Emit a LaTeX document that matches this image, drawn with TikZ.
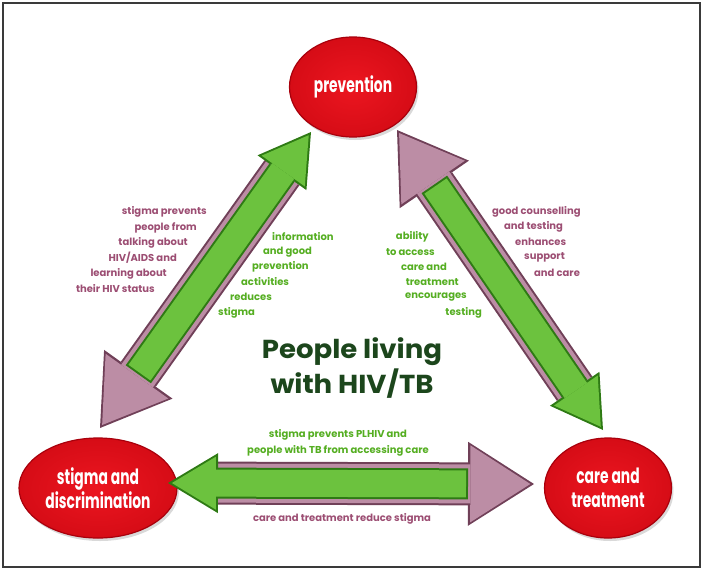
\documentclass[tikz,border=0pt]{standalone}
\usepackage{fontspec}
\setmainfont{Poppins}
\newfontfamily\ellfont{Poppins}[FakeStretch=0.66]
\newfontfamily\titlefont{Poppins}[FakeStretch=1.06]
\usetikzlibrary{arrows.meta,calc,shapes.geometric,shadows}

\definecolor{framecol}{HTML}{3A3A3A}
\definecolor{redmain}{HTML}{EC1620}
\definecolor{redmid}{HTML}{D60C16}
\definecolor{reddark}{HTML}{A8000C}
\definecolor{greenfill}{HTML}{6CC23E}
\definecolor{greenedge}{HTML}{2E7A14}
\definecolor{pinkfill}{HTML}{BC8DA5}
\definecolor{pinkedge}{HTML}{704058}
\definecolor{pinktext}{HTML}{9C4E73}
\definecolor{greentext}{HTML}{55AE22}
\definecolor{titlegreen}{HTML}{1C461C}

\tikzset{
  ellnode/.style={ellipse, draw=reddark, line width=1.2pt, inner color=redmain, outer color=redmid,
    minimum width=127pt, minimum height=100pt, text=white, align=center,
    font=\ellfont\bfseries\fontsize{21}{24}\selectfont,
    drop shadow={opacity=0.3, shadow xshift=2pt, shadow yshift=-3pt}},
  pinkarrow/.style={preaction={draw=pinkedge, line width=43pt, shorten >=0pt,
      -{Triangle[length=66pt,width=84pt,line width=0pt]}},
    draw=pinkfill, line width=39pt, shorten >=3.7pt,
    -{Triangle[length=60pt,width=77pt,line width=0pt]}},
  greenarrow/.style={preaction={draw=greenedge, line width=31pt, shorten >=0pt, shorten <=0pt,
      -{Triangle[length=50pt,width=60pt,line width=0pt]}},
    draw=greenfill, line width=27pt, shorten >=3.9pt, shorten <=2pt,
    -{Triangle[length=44pt,width=53pt,line width=0pt]}},
  pinktxt/.style={text=pinktext, inner sep=0pt, font=\bfseries\fontsize{10}{15.5}\selectfont},
  greentxt/.style={text=greentext, inner sep=0pt, font=\bfseries\fontsize{10}{15.5}\selectfont}
}

\begin{document}
\begin{tikzpicture}[x=1pt,y=-1pt]
  % Khung
  \useasboundingbox (0,0) rectangle (704,571);
  \draw[framecol, line width=2pt] (3,3) rectangle (700,567);
  % Ba vòng tròn
  \node[ellnode] (prev) at (353,87) {prevention};
  \node[ellnode] (stigma) at (98,488) {stigma and\\discrimination};
  \node[ellnode] (care) at (608,488) {care and\\treatment};
  % Đầu mũi tên
  \coordinate (gL) at (311,132);
  \coordinate (pL) at (100,428);
  \coordinate (pR) at (397,130);
  \coordinate (gR) at (603,430);
  \coordinate (gB) at (168,483);
  \coordinate (pB) at (534,484);
  % Vẽ các mũi tên
  \draw[pinkarrow] ($(gL)!50pt!(pL)$) -- (pL);
  \draw[greenarrow] ($(pL)!66pt!(gL)$) -- (gL);
  \draw[pinkarrow] ($(gR)!50pt!(pR)$) -- (pR);
  \draw[greenarrow] ($(pR)!66pt!(gR)$) -- (gR);
  \draw[pinkarrow] ($(gB)!50pt!(pB)$) -- (pB);
  \draw[greenarrow] ($(pB)!66pt!(gB)$) -- (gB);
  % Chữ ở giữa
  \node[text=titlegreen, align=center, font=\titlefont\bfseries\fontsize{26}{35}\selectfont]
    (title) at (352,368) {People living\\with HIV/TB};
  % Chữ bên trái
  \foreach \t/\x/\y [count=\i] in {stigma prevents/207/212, people from/197/228,
      talking about/188/243, {HIV/AIDS and}/177/258, learning about/167/274,
      their HIV status/155/289}
    \node[pinktxt, anchor=east] (lp\i) at (\x,\y) {\t};
  \foreach \t/\x/\y [count=\i] in {information/272/237, and good/263/252,
      prevention/252/267, activities/241/282, reduces/230/297, stigma/218/313}
    \node[greentxt, anchor=west] (lg\i) at (\x,\y) {\t};
  % Chữ bên phải
  \foreach \t/\x/\y [count=\i] in {ability/429/237, to access/435/252,
      care and/447/267, treatment/459/282, encourages/467/297, testing/482/313}
    \node[greentxt, anchor=east] (rg\i) at (\x,\y) {\t};
  \foreach \t/\x/\y [count=\i] in {good counselling/492/212, and testing/504/227,
      enhances/515/242, support/524/257, and care/534/273}
    \node[pinktxt, anchor=west] (rp\i) at (\x,\y) {\t};
  % Chữ ở dưới
  \node[greentxt, align=center] (bg) at (338,443)
    {stigma prevents PLHIV and\\people with TB from accessing care};
  \node[pinktxt] (bp) at (342,519) {care and treatment reduce stigma};
\end{tikzpicture}
\end{document}
